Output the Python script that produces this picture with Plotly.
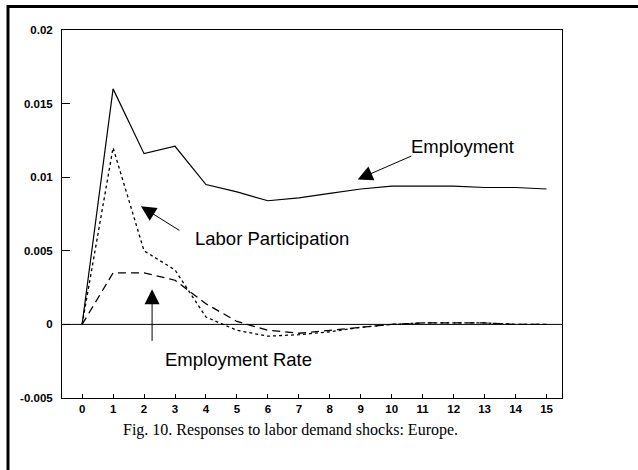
import plotly.graph_objects as go

periods = list(range(0, 16))
employment = [0.0, 0.0160, 0.0116, 0.0121, 0.0095, 0.0090, 0.0084, 0.0086, 0.0089,
              0.0092, 0.0094, 0.0094, 0.0094, 0.0093, 0.0093, 0.0092]
labor_participation = [0.0, 0.0120, 0.0050, 0.0037, 0.0005, -0.0004, -0.0008, -0.0007,
                       -0.0005, -0.0002, 0.0000, 0.0001, 0.0001, 0.0001, 0.0000, 0.0000]
employment_rate = [0.0, 0.0035, 0.0035, 0.0030, 0.0014, 0.0002, -0.0004, -0.0006,
                   -0.0004, -0.0002, 0.0000, 0.0001, 0.0001, 0.0001, 0.0000, 0.0000]
y_ticks = [0.02, 0.015, 0.01, 0.005, 0.0, -0.005]
y_tick_labels = ["0.02", "0.015", "0.01", "0.005", "0", "-0.005"]
x_tick_labels = [str(p) for p in periods]
caption = "Fig. 10. Responses to labor demand shocks: Europe."

fig = go.Figure()
fig.add_trace(go.Scatter(x=periods, y=employment, mode="lines",
                         line=dict(color="black", width=1.2), name="Employment"))
fig.add_trace(go.Scatter(x=periods, y=labor_participation, mode="lines",
                         line=dict(color="black", width=1.3, dash="dot"), name="Labor Participation"))
fig.add_trace(go.Scatter(x=periods, y=employment_rate, mode="lines",
                         line=dict(color="black", width=1.3, dash="8px,5px"), name="Employment Rate"))

font_lbl = dict(family="Liberation Sans, Arial", size=18.5, color="black")
arrow_style = dict(showarrow=True, arrowhead=2, arrowsize=3, arrowwidth=1,
                   arrowcolor="black", axref="x", ayref="y", text="")

annotations = [
    dict(x=12.29, y=0.01209, text="Employment", showarrow=False, font=font_lbl),
    dict(x=6.13, y=0.00584, text="Labor Participation", showarrow=False, font=font_lbl),
    dict(x=5.05, y=-0.00238, text="Employment Rate", showarrow=False, font=font_lbl),
    dict(x=8.90, y=0.00985, ax=10.68, ay=0.01148, **arrow_style),
    dict(x=1.90, y=0.00802, ax=3.19, ay=0.00632, **arrow_style),
    dict(x=2.26, y=0.00238, ax=2.26, ay=-0.00122, **arrow_style),
    dict(x=0.5, xref="paper", y=-0.087, yref="paper", xanchor="center", yanchor="middle",
         text=caption, showarrow=False,
         font=dict(family="Liberation Serif, Times New Roman", size=16, color="black"),
         xshift=-22),
]

shapes = [
    dict(type="line", xref="paper", yref="y", x0=0, x1=1, y0=0, y1=0,
         line=dict(color="black", width=1)),
    dict(type="rect", xref="paper", yref="paper", x0=-0.108, x1=1.3, y0=-0.3, y1=1.064,
         line=dict(color="black", width=3), fillcolor="rgba(0,0,0,0)"),
]

tick_font = dict(family="Liberation Sans, Arial", size=11.5, color="black", weight="bold")

fig.update_layout(
    width=638, height=470,
    margin=dict(l=62, r=76, t=30, b=72),
    paper_bgcolor="white", plot_bgcolor="white",
    showlegend=False,
    annotations=annotations,
    shapes=shapes,
    xaxis=dict(range=[-0.65, 15.5], tickmode="array", tickvals=periods, ticktext=x_tick_labels,
               ticks="inside", ticklen=4, tickcolor="black", showgrid=False, zeroline=False,
               showline=True, linecolor="black", linewidth=1, mirror=True, tickfont=tick_font),
    yaxis=dict(range=[-0.005, 0.02], tickmode="array", tickvals=y_ticks, ticktext=y_tick_labels,
               ticks="inside", ticklen=8, tickcolor="black", showgrid=False, zeroline=False,
               showline=True, linecolor="black", linewidth=1, mirror=True, tickfont=tick_font,
               ticklabelstandoff=6),
)

fig.write_html("out.html", config={"displayModeBar": False},
               post_script="document.body.style.margin='0px';")
